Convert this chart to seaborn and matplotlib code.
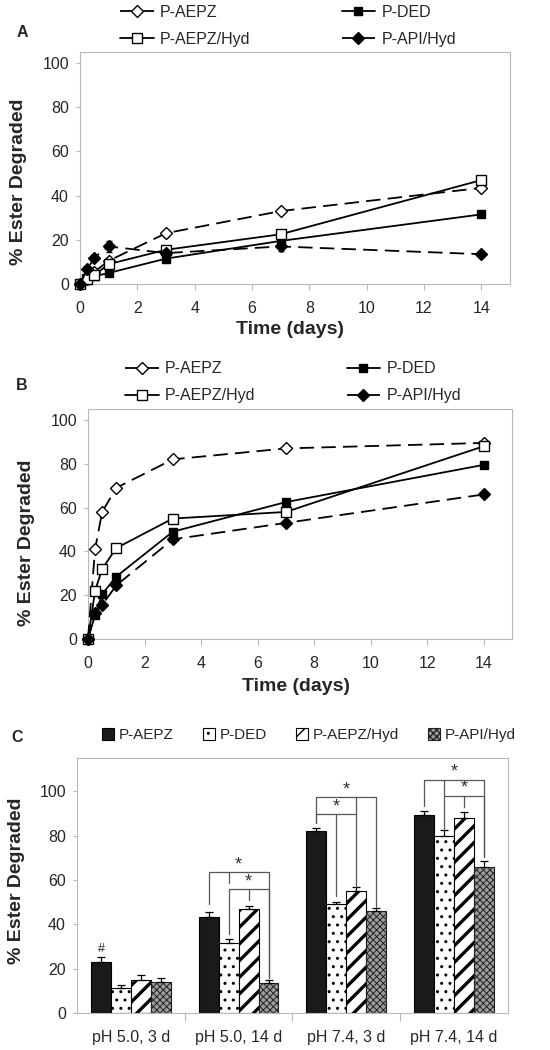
import numpy as np
import pandas as pd
import seaborn as sns
import matplotlib.pyplot as plt
from matplotlib.ticker import FixedLocator

sns.set_theme(style="white")
plt.rcParams["font.family"] = ["Liberation Sans", "DejaVu Sans"]

# ---------------- data ----------------
series = ["P-AEPZ", "P-DED", "P-AEPZ/Hyd", "P-API/Hyd"]
days = [0, 0.25, 0.5, 1, 3, 7, 14]

# Panel A (pH 5.0)
a_aepz = [0, 2.5, 5.5, 10.5, 23, 33, 43.5]
a_ded = [0, 2, 3.5, 5, 11.5, 19.5, 31.5]
a_aepz_hyd = [0, 2.5, 4, 9, 15.5, 22.5, 47]
a_api_hyd = [0, 6.6, 12, 17, 14, 17, 13.5]
a_err_aepz = [0, 0.5, 0.5, 1.5, 1.5, 1, 1]
a_err_ded = [0, 0.3, 0.3, 0.5, 1, 1, 1]
a_err_aepz_hyd = [0, 0.3, 0.5, 1, 1, 1, 1]
a_err_api_hyd = [0, 0.5, 1, 2.5, 1, 2, 0.5]

# Panel B (pH 7.4)
b_aepz = [0, 41, 58, 69, 82, 87, 89.5]
b_ded = [0, 11, 20.5, 28.5, 49, 62.5, 79.5]
b_aepz_hyd = [0, 22, 32, 41.5, 55, 58, 88]
b_api_hyd = [0, 12, 15.5, 24.5, 45.5, 53, 66]

# Panel C (bars)
conditions = ["pH 5.0, 3 d", "pH 5.0, 14 d", "pH 7.4, 3 d", "pH 7.4, 14 d"]
c_aepz = [23, 43.5, 82, 89.5]
c_ded = [11.5, 31.5, 49, 80]
c_aepz_hyd = [15, 47, 55, 88]
c_api_hyd = [14, 13.5, 46, 66]
c_err_aepz = [2.2, 2.3, 1.3, 1.6]
c_err_ded = [1.2, 2.0, 1.2, 2.4]
c_err_aepz_hyd = [2.0, 1.5, 2.0, 2.7]
c_err_api_hyd = [2.0, 1.3, 1.2, 2.6]

# significance brackets: (group, bar_i, bar_j, top, bottom_i, bottom_j)
brackets = [
    (1, 0, 3, 63.6, 49, 16),
    (1, 1, 3, 56.1, 35.8, 16),
    (2, 0, 3, 97.4, 85.7, 48),
    (2, 0, 2, 90.0, 85.7, 57),
    (3, 0, 3, 105.3, 93.2, 70.4),
    (3, 1, 3, 97.7, 82.4, 70.4),
]
# drop ticks: (group, bar, top, bottom)
drops = [
    (1, 1, 63.6, 58.6), (1, 2, 56.1, 51),
    (2, 2, 97.4, 90.0), (2, 1, 90.0, 53),
    (3, 1, 105.3, 97.7), (3, 2, 97.7, 93),
]
# stars: (group, bar_from, bar_to, y)  -> star at middle of the bars
stars = [(1, 0, 3, 67), (1, 2, 2, 59), (2, 0, 3, 100.5), (2, 1, 1, 93),
         (3, 0, 3, 108.7), (3, 2, 2, 101.5)]
hash_mark = (0, 0, 29)

# ---------------- figure ----------------
fig = plt.figure(figsize=(5.5, 10.5), dpi=100)
axA = fig.add_axes([0.1455, 0.7295, 0.7815, 0.221])
axB = fig.add_axes([0.16, 0.3914, 0.771, 0.2191])
axC = fig.add_axes([0.14, 0.0352, 0.7836, 0.2428])

FS = 11.5
spine_col = "#b8b8b8"
dash = (0, (8, 4))

styles = {
    "P-AEPZ": dict(marker="D", markerfacecolor="white", linestyle=dash, markersize=6.3),
    "P-DED": dict(marker="s", markerfacecolor="black", linestyle="-", markersize=6),
    "P-AEPZ/Hyd": dict(marker="s", markerfacecolor="white", linestyle="-", markersize=6.5),
    "P-API/Hyd": dict(marker="D", markerfacecolor="black", linestyle=dash, markersize=6.3),
}


def line_panel(ax, vals, errs, letter, lab_x, lab_y, xl_pos, leg_pos):
    handles = {}
    for name, v, e in zip(series, vals, errs):
        st = styles[name]
        sns.lineplot(x=days, y=v, ax=ax, color="black", errorbar=None,
                     linewidth=1.3, markeredgecolor="black", markeredgewidth=1,
                     label=name, clip_on=False, zorder=3, **st)
        handles[name] = ax.lines[-1]
        if e is not None:
            ax.errorbar(days, v, yerr=e, fmt="none", ecolor="black",
                        elinewidth=0.8, capsize=2.5, zorder=2)
    ax.set_xlim(0, 15)
    ax.set_ylim(0, 105)
    ax.set_xticks(range(0, 15, 2))
    ax.set_yticks(range(0, 101, 20))
    for s in ax.spines.values():
        s.set_color(spine_col)
        s.set_linewidth(0.8)
    ax.tick_params(axis="x", direction="out", length=4, width=0.8, color=spine_col,
                   labelsize=FS, pad=8, bottom=True)
    ax.tick_params(axis="y", direction="out", length=3, width=0.8, color=spine_col,
                   labelsize=FS, pad=5, left=True)
    ax.set_xlabel("Time (days)", fontsize=14, fontweight="bold")
    ax.set_ylabel("% Ester Degraded", fontsize=14, fontweight="bold")
    ax.xaxis.set_label_coords(xl_pos[0], xl_pos[1])
    ax.yaxis.set_label_coords(lab_x, lab_y)
    order = ["P-AEPZ", "P-AEPZ/Hyd", "P-DED", "P-API/Hyd"]
    ax.legend([handles[n] for n in order], order, ncol=2, loc="center",
              bbox_to_anchor=leg_pos, bbox_transform=fig.transFigure,
              frameon=False, fontsize=FS, handlelength=2.1, handletextpad=0.4,
              columnspacing=5.7, labelspacing=0.75, numpoints=1)
    fig.text(letter[1], letter[2], letter[0], fontsize=11.5, fontweight="bold",
             ha="center", va="center")


line_panel(axA, [a_aepz, a_ded, a_aepz_hyd, a_api_hyd],
           [a_err_aepz, a_err_ded, a_err_aepz_hyd, a_err_api_hyd],
           ("A", 0.04, 0.9695), -0.123, 0.44, (0.488, -0.159), (0.524, 0.9757))
line_panel(axB, [b_aepz, b_ded, b_aepz_hyd, b_api_hyd], [None] * 4,
           ("B", 0.04, 0.6333), -0.125, 0.42, (0.49, -0.17), (0.533, 0.636))

# ---------------- panel C ----------------
dfC = pd.DataFrame({
    "condition": np.repeat(conditions, len(series)),
    "polymer": series * len(conditions),
    "value": np.ravel(np.column_stack([c_aepz, c_ded, c_aepz_hyd, c_api_hyd])),
})
sns.barplot(data=dfC, x="condition", y="value", hue="polymer", order=conditions,
            hue_order=series, width=0.74, errorbar=None, ax=axC, legend=False,
            palette=["#1a1a1a", "white", "white", "#9a9a9a"], saturation=1)
bar_conts = list(axC.containers)

bar_style = [
    dict(fc="#1a1a1a", ec="black", hatch=None, hlw=1.0, hc=None),
    dict(fc="white", ec="black", hatch="..", hlw=1.0, hc="#7a7a7a"),
    dict(fc="white", ec="black", hatch="//", hlw=2.4, hc=None),
    dict(fc="#9c9c9c", ec="#222222", hatch="xxxxx", hlw=0.7, hc=None),
]
centers = []
for cont, st in zip(bar_conts, bar_style):
    cs = []
    for p in cont.patches:
        p.set_facecolor(st["fc"])
        p.set_edgecolor(st["ec"])
        p.set_linewidth(0.8)
        if st["hatch"]:
            p.set_hatch(st["hatch"])
            if hasattr(p, "set_hatch_linewidth"):
                p.set_hatch_linewidth(st["hlw"])
            if st["hc"] and hasattr(p, "set_hatchcolor"):
                p.set_hatchcolor(st["hc"])
        cs.append(p.get_x() + p.get_width() / 2)
    centers.append(cs)

c_vals = [c_aepz, c_ded, c_aepz_hyd, c_api_hyd]
c_errs = [c_err_aepz, c_err_ded, c_err_aepz_hyd, c_err_api_hyd]
for cs, v, e in zip(centers, c_vals, c_errs):
    axC.errorbar(cs, v, yerr=[np.zeros(len(v)), e], fmt="none", ecolor="black",
                 elinewidth=0.9, capsize=2.8, capthick=0.9, zorder=3)

bk_col = "#555555"
for g, i, j, top, bi, bj in brackets:
    xi, xj = centers[i][g], centers[j][g]
    axC.plot([xi, xi, xj, xj], [bi, top, top, bj], color=bk_col, lw=0.9, zorder=4)
for g, b, top, bot in drops:
    x = centers[b][g]
    axC.plot([x, x], [top, bot], color=bk_col, lw=0.9, zorder=4)
for g, i, j, y in stars:
    x = (centers[i][g] + centers[j][g]) / 2
    axC.text(x, y, "*", ha="center", va="center", fontsize=13, color="#333333")
axC.text(centers[hash_mark[1]][hash_mark[0]], hash_mark[2], "#", ha="center",
         va="center", fontsize=9)

axC.set_ylim(0, 115)
axC.set_xlim(-0.5, 3.5)
axC.set_yticks(range(0, 101, 20))
axC.xaxis.set_major_locator(FixedLocator([0.5, 1.5, 2.5]))
axC.xaxis.set_minor_locator(FixedLocator([0, 1, 2, 3]))
axC.set_xticklabels([])
axC.set_xticklabels(conditions, minor=True)
axC.tick_params(axis="x", which="major", direction="out", length=6, width=0.8,
                color=spine_col, bottom=True)
axC.tick_params(axis="x", which="minor", length=0, labelsize=FS, pad=12, bottom=True)
axC.tick_params(axis="y", direction="out", length=3, width=0.8, color=spine_col,
                labelsize=FS, pad=5, left=True)
for s in axC.spines.values():
    s.set_color(spine_col)
    s.set_linewidth(0.8)
axC.set_xlabel("")
axC.set_ylabel("% Ester Degraded", fontsize=14, fontweight="bold")
axC.yaxis.set_label_coords(-0.121, 0.52)
axC.legend([c.patches[0] for c in bar_conts], series, ncol=4, loc="center",
           bbox_to_anchor=(0.562, 0.30), bbox_transform=fig.transFigure,
           frameon=False, fontsize=11, handlelength=0.8, handleheight=0.8,
           handletextpad=0.3, columnspacing=1.9)
fig.text(0.031, 0.298, "C", fontsize=11.5, fontweight="bold", ha="center", va="center")

fig.savefig("out.png", dpi=100)
